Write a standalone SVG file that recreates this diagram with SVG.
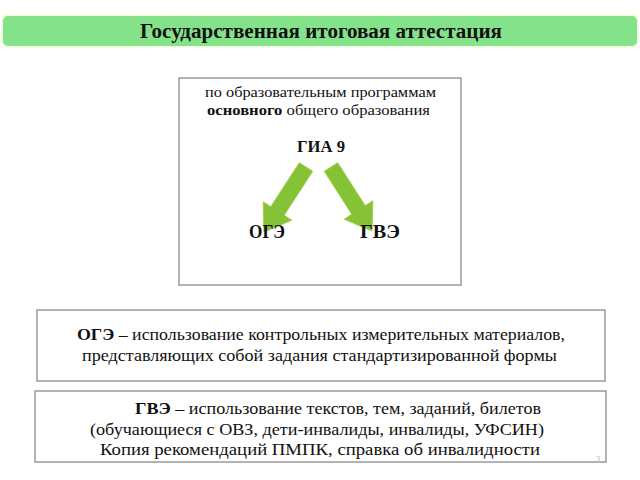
<svg xmlns="http://www.w3.org/2000/svg" width="640" height="480" viewBox="0 0 640 480">
<defs>
<filter id="glow" x="-5%" y="-30%" width="110%" height="160%">
<feGaussianBlur stdDeviation="1.2"/>
</filter>
</defs>
<style>
text{fill:#111;}
.b{font-weight:bold;}
.box{fill:#fff;stroke:#8a8a8a;stroke-width:1.3;}
.arr{fill:#86c236;stroke:#9fd04a;stroke-width:1;}
</style>
<rect width="640" height="480" fill="#fff"/>
<g font-family="'Liberation Serif', 'DejaVu Serif', serif">
<g id="title">
<rect x="2" y="15" width="636" height="32" rx="5" fill="#eaf7c8" filter="url(#glow)"/>
<rect x="3" y="16" width="634" height="30" rx="5" fill="#84e38a"/>
<text x="321" y="38" text-anchor="middle" class="b" font-size="20.5" textLength="362" lengthAdjust="spacingAndGlyphs">Государственная итоговая аттестация</text>
</g>
<g id="gia9">
<rect class="box" x="179" y="78" width="282" height="207"/>
<text x="320.5" y="97" text-anchor="middle" font-size="15.5" textLength="231" lengthAdjust="spacingAndGlyphs">по образовательным программам</text>
<text x="318.5" y="115" text-anchor="middle" font-size="15.5" textLength="223" lengthAdjust="spacingAndGlyphs"><tspan class="b">основного</tspan> общего образования</text>
<text x="321" y="152" text-anchor="middle" class="b" font-size="16" textLength="48" lengthAdjust="spacingAndGlyphs">ГИА 9</text>
</g>
<g id="connectors">
<polygon class="arr" points="312.7,171.3 299.3,162.7 270.8,206.7 263.2,201.8 264,232 291.8,220.2 284.2,215.3"/>
<polygon class="arr" points="337.7,162.7 324.3,171.3 351.8,214.3 344.2,219.2 372,231 372.8,200.8 365.2,205.7"/>
</g>
<g id="oge">
<text x="267" y="238" text-anchor="middle" class="b" font-size="18" textLength="36" lengthAdjust="spacingAndGlyphs">ОГЭ</text>
</g>
<g id="gve">
<text x="380" y="238" text-anchor="middle" class="b" font-size="18" textLength="40" lengthAdjust="spacingAndGlyphs">ГВЭ</text>
</g>
<g id="oge-desc">
<rect class="box" x="37" y="310" width="568" height="71"/>
<text x="321" y="340" text-anchor="middle" font-size="16" textLength="488" lengthAdjust="spacingAndGlyphs"><tspan class="b">ОГЭ</tspan> – использование контрольных измерительных материалов,</text>
<text x="319.5" y="361" text-anchor="middle" font-size="16" textLength="475" lengthAdjust="spacingAndGlyphs">представляющих собой задания стандартизированной формы</text>
</g>
<g id="gve-desc">
<rect class="box" x="35" y="391" width="571" height="71"/>
<text x="338" y="414" text-anchor="middle" font-size="16.5" textLength="406" lengthAdjust="spacingAndGlyphs"><tspan class="b">ГВЭ</tspan> – использование текстов, тем, заданий, билетов</text>
<text x="317" y="435" text-anchor="middle" font-size="16.5" textLength="454" lengthAdjust="spacingAndGlyphs">(обучающиеся с ОВЗ, дети-инвалиды, инвалиды, УФСИН)</text>
<text x="320" y="455" text-anchor="middle" font-size="16.5" textLength="440" lengthAdjust="spacingAndGlyphs">Копия рекомендаций ПМПК, справка об инвалидности</text>
</g>
<text x="598" y="462" text-anchor="middle" font-size="9" style="fill:#bbb">3</text>
</g>
</svg>
